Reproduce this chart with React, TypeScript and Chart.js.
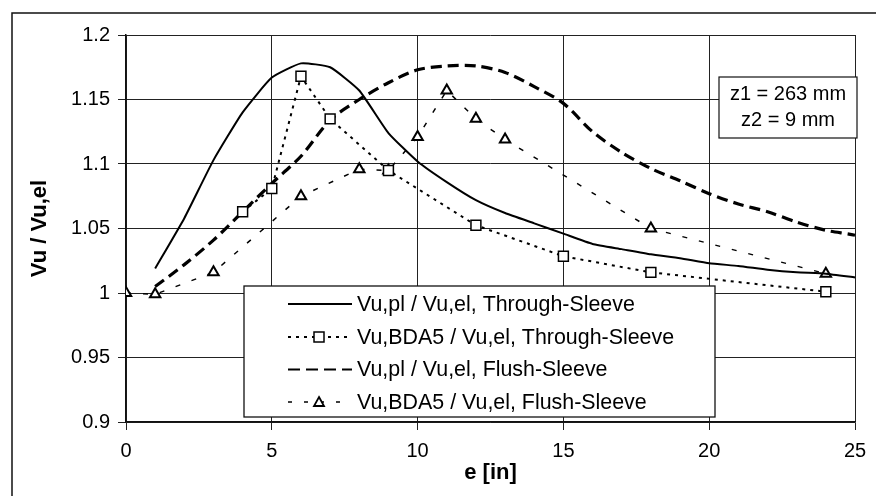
import React, { useEffect, useRef } from "react";
import { Chart, registerables } from "chart.js";

Chart.register(...registerables);

// ---- data ----
const throughPlE = [1, 2, 3, 4, 5, 6, 7, 8, 9, 10, 11, 12, 13, 14, 15, 16, 17, 18, 19, 20, 21, 22, 23, 24, 25, 25.35];
const throughPlV = [1.019, 1.058, 1.103, 1.140, 1.167, 1.178, 1.175, 1.157, 1.124, 1.102, 1.086, 1.072, 1.062, 1.054, 1.046, 1.038, 1.034, 1.030, 1.027, 1.023, 1.021, 1.018, 1.016, 1.015, 1.012, 1.011];

const throughBdaE = [4, 5, 6, 7, 9, 12, 15, 18, 24];
const throughBdaV = [1.063, 1.081, 1.168, 1.135, 1.095, 1.0525, 1.0285, 1.016, 1.001];

const flushPlE = [1, 2, 3, 4, 5, 6, 7, 8, 9, 10, 11, 12, 13, 14, 15, 16, 17, 18, 19, 20, 21, 22, 23, 24, 25, 25.35];
const flushPlV = [1.005, 1.022, 1.041, 1.063, 1.085, 1.106, 1.134, 1.150, 1.163, 1.173, 1.176, 1.176, 1.171, 1.160, 1.147, 1.125, 1.109, 1.0965, 1.087, 1.077, 1.069, 1.063, 1.055, 1.0486, 1.0448, 1.042];

const flushBdaE = [0, 1, 3, 6, 8, 9, 10, 11, 12, 13, 18, 24];
const flushBdaV = [1.0, 0.999, 1.016, 1.075, 1.096, 1.095, 1.121, 1.157, 1.135, 1.119, 1.050, 1.015];

const seriesNames = [
  "Vu,pl / Vu,el, Through-Sleeve",
  "Vu,BDA5 / Vu,el, Through-Sleeve",
  "Vu,pl / Vu,el, Flush-Sleeve",
  "Vu,BDA5 / Vu,el, Flush-Sleeve",
];

const xTicks = [0, 5, 10, 15, 20, 25];
const yTicks = [0.9, 0.95, 1, 1.05, 1.1, 1.15, 1.2];
const noteLines = ["z1 = 263 mm", "z2 = 9 mm"];
const xTitle = "e [in]";
const yTitle = "Vu / Vu,el";

const FONT = '"Liberation Sans", Arial, Helvetica, sans-serif';

const toPoints = (xs: number[], ys: number[]) => xs.map((x, i) => ({ x, y: ys[i] }));

const extrasPlugin = {
  id: "extras",
  beforeDraw(chart: any) {
    const ctx = chart.ctx;
    ctx.save();
    ctx.fillStyle = "#fff";
    ctx.fillRect(0, 0, chart.width, chart.height);
    ctx.restore();
  },
  afterDraw(chart: any) {
    const ctx = chart.ctx;
    ctx.save();
    // outer frame (left + top)
    ctx.strokeStyle = "#111";
    ctx.lineWidth = 1.5;
    ctx.beginPath();
    ctx.moveTo(12, 496);
    ctx.lineTo(12, 13);
    ctx.lineTo(876, 13);
    ctx.stroke();

    // note box
    const nb = { x: 719, y: 77, w: 138, h: 61 };
    ctx.fillStyle = "#fff";
    ctx.fillRect(nb.x, nb.y, nb.w, nb.h);
    ctx.strokeStyle = "#111";
    ctx.lineWidth = 1.2;
    ctx.strokeRect(nb.x, nb.y, nb.w, nb.h);
    ctx.fillStyle = "#000";
    ctx.font = `20px ${FONT}`;
    ctx.textAlign = "center";
    ctx.textBaseline = "middle";
    ctx.fillText(noteLines[0], nb.x + nb.w / 2, 94);
    ctx.fillText(noteLines[1], nb.x + nb.w / 2, 120);

    // legend
    const lb = { x: 244, y: 286, w: 471, h: 131 };
    ctx.fillStyle = "#fff";
    ctx.fillRect(lb.x, lb.y, lb.w, lb.h);
    ctx.strokeStyle = "#111";
    ctx.lineWidth = 1.3;
    ctx.strokeRect(lb.x, lb.y, lb.w, lb.h);
    const rows = [304, 337, 369.5, 402];
    const styles = [
      { dash: [], w: 2, marker: null },
      { dash: [3, 5], w: 2, marker: "rect" },
      { dash: [12, 6], w: 2, marker: null },
      { dash: [4, 12], w: 1.5, marker: "triangle" },
    ];
    rows.forEach((ry, i) => {
      const s = styles[i];
      ctx.strokeStyle = "#000";
      ctx.lineWidth = s.w;
      ctx.setLineDash(s.dash);
      ctx.beginPath();
      ctx.moveTo(288, ry);
      ctx.lineTo(352, ry);
      ctx.stroke();
      ctx.setLineDash([]);
      if (s.marker === "rect") {
        ctx.fillStyle = "#fff";
        ctx.fillRect(314, ry - 5, 10, 10);
        ctx.lineWidth = 1.5;
        ctx.strokeRect(314, ry - 5, 10, 10);
      } else if (s.marker === "triangle") {
        ctx.fillStyle = "#fff";
        ctx.beginPath();
        ctx.moveTo(319, ry - 5);
        ctx.lineTo(324, ry + 4);
        ctx.lineTo(314, ry + 4);
        ctx.closePath();
        ctx.fill();
        ctx.lineWidth = 1.8;
        ctx.stroke();
      }
      ctx.fillStyle = "#000";
      ctx.font = `21.4px ${FONT}`;
      ctx.textAlign = "left";
      ctx.textBaseline = "middle";
      ctx.fillText(seriesNames[i], 357, ry + 1);
    });
    ctx.restore();
  },
};

export default function App() {
  const ref = useRef<HTMLCanvasElement | null>(null);
  useEffect(() => {
    if (!ref.current) return;
    const chart = new Chart(ref.current, {
      type: "line",
      data: {
        datasets: [
          {
            label: seriesNames[0],
            data: toPoints(throughPlE, throughPlV),
            borderColor: "#000",
            borderWidth: 2,
            pointRadius: 0,
            tension: 0.15,
            clip: false,
          },
          {
            label: seriesNames[1],
            data: toPoints(throughBdaE, throughBdaV),
            borderColor: "#000",
            borderWidth: 2,
            borderDash: [3, 5],
            pointStyle: "rect",
            pointRadius: 7,
            pointBorderWidth: 1.5,
            pointBackgroundColor: "#fff",
            pointBorderColor: "#000",
            tension: 0,
          },
          {
            label: seriesNames[2],
            data: toPoints(flushPlE, flushPlV),
            borderColor: "#000",
            borderWidth: 3.2,
            borderDash: [11, 6],
            pointRadius: 0,
            tension: 0.3,
            clip: false,
          },
          {
            label: seriesNames[3],
            data: toPoints(flushBdaE, flushBdaV),
            borderColor: "#000",
            borderWidth: 1.5,
            borderDash: [5, 12],
            pointStyle: "triangle",
            pointRadius: 6,
            pointBorderWidth: 2,
            pointBackgroundColor: "#fff",
            pointBorderColor: "#000",
            tension: 0,
          },
        ],
      },
      options: {
        responsive: false,
        animation: false,
        events: [],
        layout: { padding: { top: 35, right: 21, bottom: 0, left: 0 } },
        plugins: { legend: { display: false }, tooltip: { enabled: false } },
        scales: {
          x: {
            type: "linear",
            min: 0,
            max: 25,
            afterFit: (s: any) => {
              s.height = 74;
            },
            afterBuildTicks: (s: any) => {
              s.ticks = xTicks.map((v) => ({ value: v }));
            },
            ticks: {
              color: "#000",
              font: { family: FONT, size: 20 },
              padding: 9,
              callback: (v: any) => String(v),
            },
            grid: { color: "#222", lineWidth: 1, tickLength: 8 },
            border: { color: "#111", width: 1.5 },
            title: {
              display: true,
              text: xTitle,
              color: "#000",
              font: { family: FONT, size: 22, weight: "bold" },
              padding: { top: 0, bottom: 10 },
            },
          },
          y: {
            type: "linear",
            min: 0.9,
            max: 1.2,
            afterFit: (s: any) => {
              s.width = 126;
            },
            afterBuildTicks: (s: any) => {
              s.ticks = yTicks.map((v) => ({ value: v }));
            },
            ticks: {
              color: "#000",
              font: { family: FONT, size: 20 },
              padding: 8,
              callback: (v: any) => String(+Number(v).toFixed(2)),
            },
            grid: { color: "#222", lineWidth: 1, tickLength: 8 },
            border: { color: "#111", width: 1.5 },
            title: {
              display: true,
              text: yTitle,
              color: "#000",
              font: { family: FONT, size: 22, weight: "bold" },
              padding: { top: 27, bottom: 0 },
            },
          },
        },
      },
      plugins: [extrasPlugin],
    } as any);
    return () => chart.destroy();
  }, []);
  return (
    <div style={{ position: "fixed", left: 0, top: 0, width: 876, height: 496, background: "#fff" }}>
      <canvas ref={ref} width={876} height={496} style={{ display: "block" }} />
    </div>
  );
}
